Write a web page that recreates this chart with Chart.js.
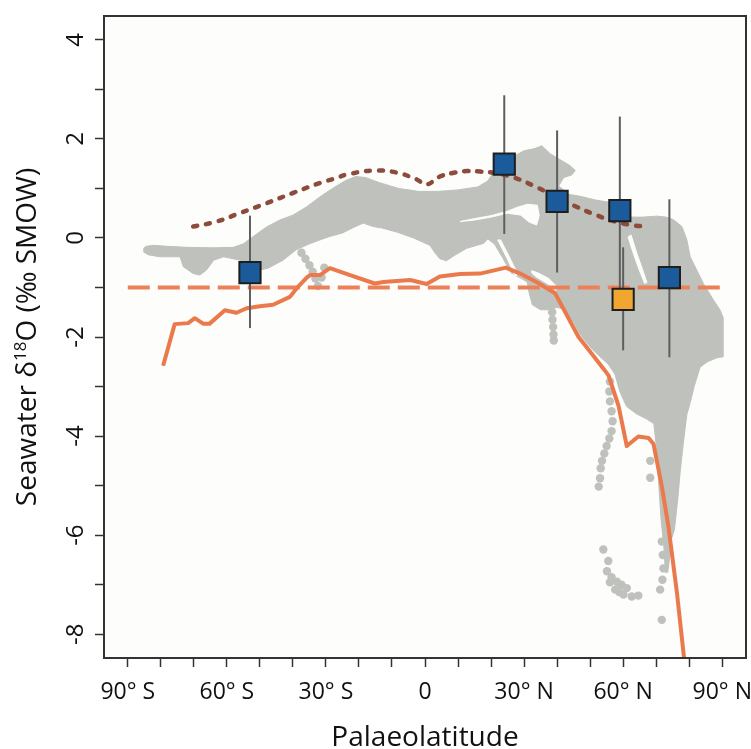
<!DOCTYPE html>
<html>
<head>
<meta charset="utf-8">
<script src="https://cdn.jsdelivr.net/npm/chart.js@4"></script>
<style>
  html, body { margin: 0; padding: 0; background: #fff; }
  canvas { display: block; }
</style>
</head>
<body>
<canvas id="chart" width="751" height="749"></canvas>
<script>
// axis ticks
const xTickValues = [-90, -80, -70, -60, -50, -40, -30, -20, -10, 0, 10, 20, 30, 40, 50, 60, 70, 80, 90];
const xTickLabels = ['90° S', '', '', '60° S', '', '', '30° S', '', '', '0', '', '', '30° N', '', '', '60° N', '', '', '90° N'];
const yTickValues = [-8, -7, -6, -5, -4, -3, -2, -1, 0, 1, 2, 3, 4];
const yTickLabels = ['-8', '', '-6', '', '-4', '', '-2', '', '0', '', '2', '', '4'];

// proxy estimates (squares + error bars)
const proxyLat = [-53, 24, 40, 59, 74];
const proxyD18O = [-0.70, 1.49, 0.74, 0.55, -0.80];
const proxyLow = [-1.82, 0.08, -0.70, -1.30, -2.41];
const proxyHigh = [0.45, 2.88, 2.17, 2.45, 0.78];
const altLat = [60];
const altD18O = [-1.24];
const altLow = [-2.27];
const altHigh = [-0.19];

// model zonal mean (solid orange)
const modelLat = [-79.3, -75.8, -71.7, -69.7, -67.2, -65.2, -60.6, -57.1, -54, -50, -46, -40.9, -38.9, -35.8, -34.8, -31.8, -28.8, -22.7, -15.2, -12.6, -4.5, 0.5, 4.5, 10.6, 16.7, 24.5, 28.8, 34.3, 39.4, 42.4, 46.5, 50.5, 54.5, 55.6, 58.6, 61.1, 64.6, 67.7, 69.2, 71.7, 73.7, 76.3, 78.8];
const modelD18O = [-2.58, -1.74, -1.72, -1.62, -1.73, -1.73, -1.46, -1.51, -1.42, -1.38, -1.35, -1.19, -1.02, -0.8, -0.75, -0.75, -0.61, -0.75, -0.92, -0.89, -0.85, -0.93, -0.78, -0.73, -0.72, -0.6, -0.72, -0.91, -1.12, -1.49, -2.0, -2.34, -2.68, -2.78, -3.39, -4.2, -4.01, -4.04, -4.16, -5.01, -5.82, -7.17, -8.7];

// dotted brown curve
const curveLat = [-70.2, -63.1, -56.1, -48, -39.9, -31.8, -26.8, -23.7, -15.7, -8.6, -2.5, 0.5, 4.5, 9.1, 12.6, 16.7, 21.2, 27.3, 33.3, 39.4, 45.5, 51.5, 57.6, 63.6, 67.7];
const curveD18O = [0.23, 0.33, 0.5, 0.7, 0.91, 1.11, 1.21, 1.28, 1.36, 1.32, 1.18, 1.08, 1.24, 1.32, 1.35, 1.34, 1.31, 1.21, 1.04, 0.84, 0.64, 0.47, 0.33, 0.25, 0.23];

// global mean (dashed)
const meanLat = [-90, 90];
const meanD18O = [-1, -1];

// grey model cloud outline
const cloudOutline = [
  [-85.3, -0.22], [-84.5, -0.17], [-82, -0.15], [-78, -0.17], [-72, -0.19], [-64, -0.2], [-58, -0.19],
  [-55, -0.12], [-52, 0.03], [-48, 0.22], [-44, 0.36], [-40, 0.46], [-36, 0.62], [-32, 0.82], [-28, 1.0],
  [-24, 1.16], [-21, 1.24], [-18, 1.22], [-14, 1.12], [-8, 1.0], [-2, 0.94], [4, 0.94], [10, 0.97],
  [16, 1.03], [19, 1.15], [21, 1.35], [23, 1.6], [27.8, 1.68], [30, 1.76], [33, 1.8], [35.4, 1.86],
  [37.9, 1.7], [40.4, 1.6], [43.9, 1.46], [45.5, 1.36], [44.4, 1.27], [42, 1.22], [40.5, 1.05],
  [43.5, 0.88], [47, 0.84], [52, 0.76], [56, 0.72], [59, 0.62], [62.6, 0.42], [66, 0.42], [70.2, 0.44],
  [73, 0.42], [75.2, 0.37], [77.8, 0.23], [79.3, -0.04], [80.3, -0.38], [82.3, -0.65], [84.3, -0.92],
  [87.4, -1.26], [89.4, -1.46], [90.2, -1.6], [90.2, -2.4], [88.4, -2.42], [85.5, -2.5], [83.3, -2.61],
  [81.5, -3.0], [80.2, -3.35], [79.3, -3.56], [78.3, -4.1], [77.3, -4.7], [76.5, -5.3], [75.5, -5.9],
  [74.5, -6.1], [74, -6.5], [73.5, -6.75], [72.8, -6.75], [72.3, -6.2], [71.5, -5.7], [70.8, -5.0],
  [70.2, -4.3], [69.3, -3.75], [67, -3.65], [64, -3.55], [61, -3.4], [59, -3.1], [57.5, -2.75],
  [55.5, -2.55], [53, -2.4], [50, -2.2], [47, -1.95], [45, -1.7], [42.5, -1.45], [40, -1.4],
  [38, -1.45], [35, -1.45], [32.5, -1.35], [31.5, -1.1], [31, -0.9], [30, -0.85], [28, -0.78],
  [26, -0.7], [23.5, -0.4], [21, -0.12], [19, -0.02], [17.7, -0.11], [12.6, -0.21], [9, -0.35],
  [6.5, -0.46], [4.5, -0.42], [3, -0.3], [1.5, -0.15], [-3.5, 0.0], [-8.6, 0.12], [-13, 0.2],
  [-15.7, 0.23], [-18.7, 0.3], [-22, 0.2], [-25, 0.1], [-28.8, 0.03], [-31, -0.02], [-35, -0.12],
  [-39, -0.24], [-43, -0.45], [-47.5, -0.61], [-50, -0.65], [-53, -0.6], [-56, -0.45], [-61, -0.38],
  [-64, -0.45], [-66.2, -0.65], [-68.2, -0.75], [-70.2, -0.72], [-73.2, -0.58], [-74.2, -0.38],
  [-80.3, -0.38], [-83.8, -0.34], [-85.3, -0.28]
];

// gaps inside the cloud
const cloudGaps = [
  [[10.6, 0.33], [15, 0.39], [20, 0.45], [25, 0.54], [28, 0.62], [31, 0.68], [34, 0.66], [34.6, 0.45],
   [33.8, 0.26], [31.5, 0.32], [29, 0.46], [25, 0.5], [20, 0.42], [15, 0.36], [10.6, 0.33]],
  [[61.5, 0.02], [62.4, 0.06], [64.2, -0.32], [66.3, -0.72], [67.2, -0.9], [66.5, -0.92], [64.6, -0.6], [62.6, -0.22], [61.5, 0.02]],
  [[22, -0.04], [22.9, -0.04], [25.3, -0.35], [27.3, -0.62], [27.8, -0.76], [27.2, -0.76], [24.9, -0.42], [22, -0.04]],
  [[32.2, -0.66], [34, -0.7], [37.5, -0.82], [40.2, -1.0], [39.6, -1.06], [37, -0.92], [33.5, -0.78], [32.2, -0.7]]
];

// isolated cloud points
const cloudDotLat = [-37.4, -36.2, -35, -34, -33.2, -32.4, -31.3, -30.5,
  38.5, 38.6, 38.8, 38.9, 39,
  56, 55.8, 56, 56.5, 56.8, 56.5, 55.8, 55, 54.3, 53.6, 53.2, 53, 52.6,
  54, 55.5, 55.1, 56.5, 58.1, 59.5, 61.1, 62.6, 64.6, 57.6, 60.1, 56, 58.8,
  71.7, 72.2, 71.9, 71.2, 71.7, 68.2, 68.2, 72];
const cloudDotD18O = [-0.3, -0.42, -0.55, -0.68, -0.82, -0.97, -0.8, -0.6,
  -1.5, -1.65, -1.8, -1.95, -2.07,
  -2.9, -3.1, -3.3, -3.5, -3.7, -3.9, -4.05, -4.2, -4.35, -4.5, -4.65, -4.85, -5.02,
  -6.29, -6.52, -6.73, -6.85, -6.94, -7.0, -7.07, -7.24, -7.22, -7.1, -7.2, -6.95, -7.15,
  -6.13, -6.67, -6.9, -7.1, -7.71, -4.5, -4.84, -6.4];

const GREY = '#BFC2BC';
const PLOT_BG = '#FDFDFB';
const FONT = '"Open Sans", "DejaVu Sans", sans-serif';

const toPoints = (xs, ys) => xs.map((x, i) => ({ x, y: ys[i] }));
const pairs = (arr) => arr.map(([x, y]) => ({ x, y }));

function polygonDataset(points, color, order) {
  return {
    type: 'line', data: pairs(points), fill: 'shape', backgroundColor: color,
    borderColor: color, borderWidth: 1, pointRadius: 0, tension: 0, order,
  };
}

function errorBars(xs, lo, hi) {
  return xs.map((x, i) => ({
    type: 'line', data: [{ x, y: lo[i] }, { x, y: hi[i] }],
    borderColor: '#5e5e5e', borderWidth: 2, pointRadius: 0, order: 5,
  }));
}

const datasets = [
  polygonDataset(cloudOutline, GREY, 20),
  ...cloudGaps.map(g => polygonDataset(g, PLOT_BG, 18)),
  {
    type: 'scatter', data: toPoints(cloudDotLat, cloudDotD18O),
    backgroundColor: GREY, borderWidth: 0, pointRadius: 4.2, order: 19,
  },
  {
    type: 'line', data: toPoints(meanLat, meanD18O), borderColor: '#EC8159',
    borderWidth: 4, borderDash: [22, 8], pointRadius: 0, order: 10,
  },
  {
    type: 'line', data: toPoints(modelLat, modelD18O), borderColor: '#EA7A4C',
    borderWidth: 4, borderJoinStyle: 'round', pointRadius: 0, tension: 0, order: 9,
  },
  {
    type: 'line', data: toPoints(curveLat, curveD18O), borderColor: '#8C4B3B',
    borderWidth: 4.5, borderDash: [4, 9], borderCapStyle: 'round', pointRadius: 0, tension: 0.4, order: 8,
  },
  ...errorBars(proxyLat, proxyLow, proxyHigh),
  ...errorBars(altLat, altLow, altHigh),
  {
    type: 'scatter', data: toPoints(altLat, altD18O), pointStyle: 'rect', pointRadius: 15,
    backgroundColor: '#F0A630', borderColor: '#1e1e1e', borderWidth: 2, order: 2,
  },
  {
    type: 'scatter', data: toPoints(proxyLat, proxyD18O), pointStyle: 'rect', pointRadius: 15,
    backgroundColor: '#1C5B9B', borderColor: '#1e1e1e', borderWidth: 2, order: 1,
  },
];

const frameAndText = {
  id: 'frameAndText',
  beforeDraw(chart) {
    const { ctx, chartArea: a } = chart;
    ctx.save();
    ctx.fillStyle = '#fff';
    ctx.fillRect(0, 0, chart.width, chart.height);
    ctx.fillStyle = PLOT_BG;
    ctx.fillRect(a.left, a.top, a.right - a.left, a.bottom - a.top);
    ctx.restore();
  },
  afterDraw(chart) {
    const { ctx, chartArea: a, scales } = chart;
    ctx.save();
    ctx.strokeStyle = '#333';
    ctx.lineWidth = 2;
    ctx.strokeRect(a.left, a.top, a.right - a.left, a.bottom - a.top);

    ctx.fillStyle = '#111';
    ctx.font = '23px ' + FONT;
    ctx.textAlign = 'center';
    ctx.textBaseline = 'alphabetic';
    xTickValues.forEach((v, i) => {
      if (xTickLabels[i]) ctx.fillText(xTickLabels[i], scales.x.getPixelForValue(v), 699);
    });
    ctx.font = '24px ' + FONT;
    yTickValues.forEach((v, i) => {
      if (!yTickLabels[i]) return;
      ctx.save();
      ctx.translate(82.5, scales.y.getPixelForValue(v));
      ctx.rotate(-Math.PI / 2);
      ctx.fillText(yTickLabels[i], 0, 0);
      ctx.restore();
    });

    ctx.font = '28px ' + FONT;
    ctx.fillText('Palaeolatitude', (a.left + a.right) / 2, 746);

    // y title with superscript 18
    const parts = [
      { t: 'Seawater δ', f: '28px ' + FONT, dy: 0 },
      { t: '18', f: '17px ' + FONT, dy: -10 },
      { t: 'O (‰ SMOW)', f: '28px ' + FONT, dy: 0 },
    ];
    let total = 0;
    parts.forEach(p => { ctx.font = p.f; p.w = ctx.measureText(p.t).width; total += p.w; });
    ctx.translate(36, (a.top + a.bottom) / 2);
    ctx.rotate(-Math.PI / 2);
    ctx.textAlign = 'left';
    let xPos = -total / 2;
    parts.forEach(p => { ctx.font = p.f; ctx.fillText(p.t, xPos, p.dy); xPos += p.w; });
    ctx.restore();
  },
};

new Chart(document.getElementById('chart'), {
  type: 'scatter',
  data: { datasets },
  options: {
    responsive: false,
    animation: false,
    devicePixelRatio: 1,
    events: [],
    layout: { autoPadding: false, padding: { top: 16, right: 5, left: 0, bottom: 0 } },
    plugins: { legend: { display: false }, tooltip: { enabled: false } },
    scales: {
      x: {
        type: 'linear', min: -97.2, max: 97.2,
        afterBuildTicks: (axis) => { axis.ticks = xTickValues.map(value => ({ value })); },
        afterFit: (axis) => { axis.height = 91; },
        ticks: { display: false },
        border: { display: false },
        grid: { drawOnChartArea: false, drawTicks: true, tickLength: 9, tickWidth: 1.5, tickColor: '#333' },
      },
      y: {
        type: 'linear', min: -8.48, max: 4.48,
        afterBuildTicks: (axis) => { axis.ticks = yTickValues.map(value => ({ value })); },
        afterFit: (axis) => { axis.width = 104; },
        ticks: { display: false },
        border: { display: false },
        grid: { drawOnChartArea: false, drawTicks: true, tickLength: 9, tickWidth: 1.5, tickColor: '#333' },
      },
    },
  },
  plugins: [frameAndText],
});
</script>
</body>
</html>
